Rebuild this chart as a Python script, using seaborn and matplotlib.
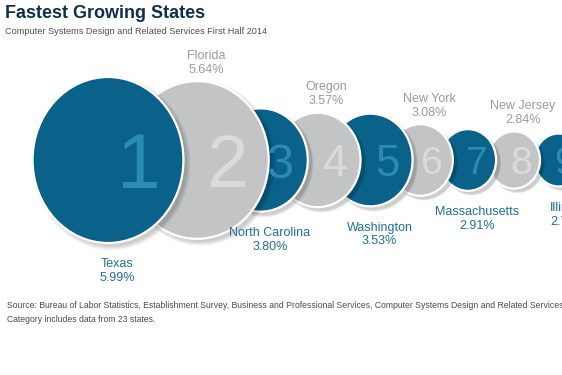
import numpy as np
import pandas as pd
import matplotlib
matplotlib.use("Agg")
import matplotlib.pyplot as plt
from matplotlib.path import Path
from matplotlib.transforms import Affine2D
from matplotlib import patheffects
import seaborn as sns

ranks = [1, 2, 3, 4, 5, 6, 7, 8, 9]
states = ["Texas", "Florida", "North Carolina", "Oregon", "Washington",
          "New York", "Massachusetts", "New Jersey", "Illinois"]
growth = [5.99, 5.64, 3.80, 3.57, 3.53, 3.08, 2.91, 2.84, 2.78]

DARK = "#0a6189"
GRAY = "#c3c4c6"
DARK_NUM = "#2a8cb4"
GRAY_NUM = "#dadbdd"
DARK_TXT = "#1f6f96"
GRAY_TXT = "#9a9b9d"


class SoftShadow(patheffects.AbstractPathEffect):
    # a few translucent copies under each marker, then the marker itself
    def draw_path(self, renderer, gc, tpath, affine, rgbFace=None):
        d = renderer.points_to_pixels(2.6)
        for k in (1.0, 1.015, 1.03, 1.045):
            gc0 = renderer.new_gc()
            gc0.copy_properties(gc)
            gc0.set_foreground("none")
            gc0.set_linewidth(0)
            gc0.set_alpha(0.05)
            tr = Affine2D().scale(k) + affine + Affine2D().translate(d, -d * 0.9)
            renderer.draw_path(gc0, tpath, tr, (0, 0, 0))
            gc0.restore()
        renderer.draw_path(gc, tpath, affine, rgbFace)


df = pd.DataFrame({"rank": ranks, "state": states, "growth": growth})
df["tone"] = np.where(df["rank"] % 2 == 1, "dark", "light")
df["y"] = 0.0
df = df.sort_values("rank", ascending=False)  # rank 1 drawn last, on top

sns.set_theme(style="white")
plt.rcParams["font.family"] = ["Liberation Sans", "DejaVu Sans"]

fig = plt.figure(figsize=(5.62, 3.75), dpi=100)
ax = fig.add_axes([0, 0, 1, 1])

# the original bubbles are slightly taller than wide
oval = Path.unit_circle().transformed(Affine2D().scale(1 / 1.1, 1))

sns.scatterplot(data=df, x="rank", y="y", hue="tone", size="growth",
                sizes=(1456, 14285), palette={"dark": DARK, "light": GRAY},
                marker=oval, edgecolor="white", linewidth=1.6,
                legend=False, ax=ax)
pts = ax.collections[-1]
pts.set_path_effects([SoftShadow()])

# bubbles get packed tighter as they shrink
p = 0.78
fwd = lambda r: np.sign(r - 1) * np.abs(r - 1) ** p
inv = lambda u: 1 + np.sign(u) * np.abs(u) ** (1 / p)
ax.set_xscale("function", functions=(fwd, inv))
ax.set_xlim(inv(-108 / 89), inv(454 / 89))
ax.set_ylim(-215 / 375, 160 / 375)
ax.axis("off")

areas = pts.get_sizes()
for (_, row), a in zip(df.iterrows(), areas):
    h = np.sqrt(a)          # bubble height in points
    w = h / 1.1
    dark = row["tone"] == "dark"
    fs = max(0.34 * h / 0.72, 28)
    ax.annotate(str(row["rank"]), (row["rank"], 0),
                xytext=(w / 2 - 0.15 * w, -0.36 * fs), textcoords="offset points",
                ha="right", va="baseline", fontsize=fs,
                color=DARK_NUM if dark else GRAY_NUM)
    label = f"{row['state']}\n{row['growth']:.2f}%"
    if dark:
        ax.annotate(label, (row["rank"], 0), xytext=(6.5, -(h / 2 + 11)),
                    textcoords="offset points", ha="center", va="top",
                    fontsize=9, color=DARK_TXT, linespacing=1.2)
    else:
        ax.annotate(label, (row["rank"], 0), xytext=(6.5, h / 2 + 4),
                    textcoords="offset points", ha="center", va="bottom",
                    fontsize=9, color=GRAY_TXT, linespacing=1.2)

fig.text(5 / 562, 1 - 13.5 / 375, "Fastest Growing States", fontsize=13,
         fontweight="bold", color="#0e2f4d", va="center", ha="left")
fig.text(5 / 562, 1 - 31.5 / 375,
         "Computer Systems Design and Related Services First Half 2014",
         fontsize=6.6, color="#505050", va="center", ha="left")
fig.text(7 / 562, 1 - 305 / 375,
         "Source: Bureau of Labor Statistics, Establishment Survey, Business and "
         "Professional Services, Computer Systems Design and Related Services",
         fontsize=6.2, color="#4a4a4a", va="center", ha="left")
fig.text(7 / 562, 1 - 319 / 375, "Category includes data from 23 states.",
         fontsize=6.2, color="#4a4a4a", va="center", ha="left")

fig.savefig("out.png", dpi=100, facecolor="white")
